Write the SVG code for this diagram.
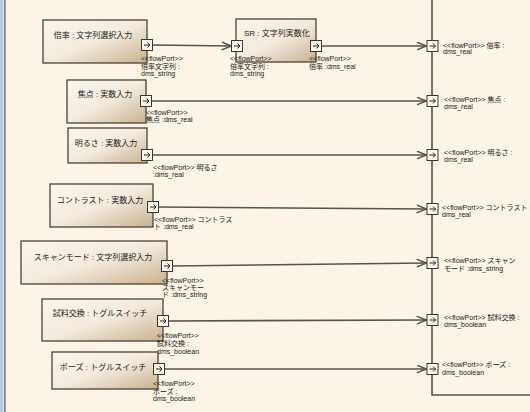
<svg xmlns="http://www.w3.org/2000/svg" xmlns:xlink="http://www.w3.org/1999/xlink" width="530" height="412" viewBox="0 0 530 412">
<style>
.box{stroke:#4a423a;stroke-width:1.3;fill:url(#g)}
.lbl{font-family:"Liberation Sans","Noto Sans CJK JP",sans-serif;font-size:8px;fill:#1a1a1a}
.pl{font-family:"Liberation Sans","Noto Sans CJK JP",sans-serif;font-size:7px;fill:#1a1a1a}
.con{stroke:#58524c;stroke-width:1.6;fill:none}
</style>
<defs>
<linearGradient id="g" x1="0" y1="0" x2="1" y2="1">
<stop offset="0" stop-color="#fbf5ec"/>
<stop offset="0.5" stop-color="#f4ebde"/>
<stop offset="1" stop-color="#c9b18e"/>
</linearGradient>
<marker id="arr" markerUnits="userSpaceOnUse" markerWidth="12" markerHeight="10" refX="10" refY="4.5" orient="auto">
<path d="M0,0.5 L10,4.5 L0,8.5" fill="none" stroke="#58524c" stroke-width="1.4"/>
</marker>
<symbol id="port" viewBox="0 0 11 11" width="11" height="11" overflow="visible">
<rect x="0" y="0" width="11" height="11" fill="#fdf8f0" stroke="#3d3630" stroke-width="1"/>
<path d="M2.5,5.5 H8.5 M6,3 L8.5,5.5 L6,8" fill="none" stroke="#222" stroke-width="1"/>
</symbol>
</defs>
<rect x="0" y="0" width="530" height="412" fill="#fcf4e7"/>
<rect x="0" y="0" width="3.5" height="412" fill="#b9c9e9"/>
<rect x="3.5" y="0" width="0.8" height="412" fill="#e6ecf6"/>
<rect x="4.3" y="0" width="1.2" height="412" fill="#4e4e4e"/>

<g id="connectors">
<path class="con" d="M432,0 V395 H530"/>
<line class="con" x1="152.5" y1="45" x2="231.5" y2="46" marker-end="url(#arr)"/>
<line class="con" x1="321.5" y1="46" x2="426.5" y2="46" marker-end="url(#arr)"/>
<line class="con" x1="151.5" y1="101" x2="426.5" y2="101" marker-end="url(#arr)"/>
<line class="con" x1="152.5" y1="155" x2="426.5" y2="155" marker-end="url(#arr)"/>
<line class="con" x1="158.5" y1="207" x2="426.5" y2="209" marker-end="url(#arr)"/>
<line class="con" x1="172.5" y1="266" x2="426.5" y2="263" marker-end="url(#arr)"/>
<line class="con" x1="168.5" y1="321" x2="426.5" y2="320" marker-end="url(#arr)"/>
<line class="con" x1="164.5" y1="369" x2="426.5" y2="369" marker-end="url(#arr)"/>
</g>

<g id="node-bairitsu">
<rect class="box" x="43" y="20" width="104" height="43"/>
<text class="lbl" x="93" y="38" text-anchor="middle">倍率 : 文字列選択入力</text>
<use xlink:href="#port" x="141.5" y="39.5"/>
<text class="pl" x="141" y="61">&lt;&lt;flowPort&gt;&gt;</text>
<text class="pl" x="141" y="69">倍率文字列 :</text>
<text class="pl" x="141" y="76">dms_string</text>
</g>

<g id="node-sr">
<rect class="box" x="236" y="19" width="80" height="43"/>
<text class="lbl" x="244" y="36">SR : 文字列実数化</text>
<use xlink:href="#port" x="231.5" y="40.5"/>
<use xlink:href="#port" x="310.5" y="40.5"/>
<text class="pl" x="230" y="61">&lt;&lt;flowPort&gt;&gt;</text>
<text class="pl" x="230" y="69">倍率文字列 :</text>
<text class="pl" x="230" y="76">dms_string</text>
<text class="pl" x="309" y="61">&lt;&lt;flowPort&gt;&gt;</text>
<text class="pl" x="309" y="69">倍率 :dms_real</text>
</g>

<g id="node-shoten">
<rect class="box" x="67" y="80" width="79" height="43"/>
<text class="lbl" x="105" y="97" text-anchor="middle">焦点 : 実数入力</text>
<use xlink:href="#port" x="140.5" y="95.5"/>
<text class="pl" x="146" y="114.5">&lt;&lt;flowPort&gt;&gt;</text>
<text class="pl" x="146" y="122">焦点 :dms_real</text>
</g>

<g id="node-akarusa">
<rect class="box" x="68" y="128" width="79" height="35"/>
<text class="lbl" x="106" y="146" text-anchor="middle">明るさ : 実数入力</text>
<use xlink:href="#port" x="141.5" y="149.5"/>
<text class="pl" x="153" y="169.5">&lt;&lt;flowPort&gt;&gt; 明るさ</text>
<text class="pl" x="153" y="176.5">:dms_real</text>
</g>

<g id="node-contrast">
<rect class="box" x="50" y="184" width="103" height="43"/>
<text class="lbl" x="100" y="203" text-anchor="middle">コントラスト : 実数入力</text>
<use xlink:href="#port" x="147.5" y="201.5"/>
<text class="pl" x="154" y="221.5">&lt;&lt;flowPort&gt;&gt; コントラス</text>
<text class="pl" x="154" y="229">ト :dms_real</text>
</g>

<g id="node-scan">
<rect class="box" x="21" y="241" width="146" height="43"/>
<text class="lbl" x="93" y="260" text-anchor="middle">スキャンモード : 文字列選択入力</text>
<use xlink:href="#port" x="161.5" y="260.5"/>
<text class="pl" x="162" y="282.5">&lt;&lt;flowPort&gt;&gt;</text>
<text class="pl" x="162" y="289.5">スキャンモー</text>
<text class="pl" x="162" y="297">ド :dms_string</text>
</g>

<g id="node-shiryo">
<rect class="box" x="42" y="299" width="121" height="42"/>
<text class="lbl" x="100" y="316" text-anchor="middle">試料交換 : トグルスイッチ</text>
<use xlink:href="#port" x="157.5" y="315.5"/>
<text class="pl" x="157" y="337.5">&lt;&lt;flowPort&gt;&gt;</text>
<text class="pl" x="157" y="345.5">試料交換 :</text>
<text class="pl" x="157" y="353.5">dms_boolean</text>
</g>

<g id="node-pause">
<rect class="box" x="52" y="352" width="106" height="37"/>
<text class="lbl" x="103" y="370" text-anchor="middle">ポーズ : トグルスイッチ</text>
<use xlink:href="#port" x="153.5" y="363.5"/>
<text class="pl" x="153" y="385.5">&lt;&lt;flowPort&gt;&gt;</text>
<text class="pl" x="153" y="393.5">ポーズ :</text>
<text class="pl" x="153" y="400.5">dms_boolean</text>
</g>

<g id="node-system">
<use xlink:href="#port" x="427" y="40.5"/>
<text class="pl" x="443" y="47.5">&lt;&lt;flowPort&gt;&gt; 倍率 :</text>
<text class="pl" x="443" y="54">dms_real</text>
<use xlink:href="#port" x="427" y="95.5"/>
<text class="pl" x="444" y="102">&lt;&lt;flowPort&gt;&gt; 焦点 :</text>
<text class="pl" x="444" y="108.5">dms_real</text>
<use xlink:href="#port" x="427" y="149.5"/>
<text class="pl" x="444" y="154.5">&lt;&lt;flowPort&gt;&gt; 明るさ :</text>
<text class="pl" x="444" y="161.5">dms_real</text>
<use xlink:href="#port" x="427" y="203.5"/>
<text class="pl" x="442" y="209.5">&lt;&lt;flowPort&gt;&gt; コントラスト :</text>
<text class="pl" x="442" y="216.5">dms_real</text>
<use xlink:href="#port" x="427" y="257.5"/>
<text class="pl" x="444" y="262.5">&lt;&lt;flowPort&gt;&gt; スキャン</text>
<text class="pl" x="444" y="270.5">モード :dms_string</text>
<use xlink:href="#port" x="427" y="314.5"/>
<text class="pl" x="444" y="319.5">&lt;&lt;flowPort&gt;&gt; 試料交換 :</text>
<text class="pl" x="444" y="326.5">dms_boolean</text>
<use xlink:href="#port" x="427" y="363.5"/>
<text class="pl" x="442" y="366.5">&lt;&lt;flowPort&gt;&gt; ポーズ :</text>
<text class="pl" x="442" y="374.5">dms_boolean</text>
</g>
</svg>
